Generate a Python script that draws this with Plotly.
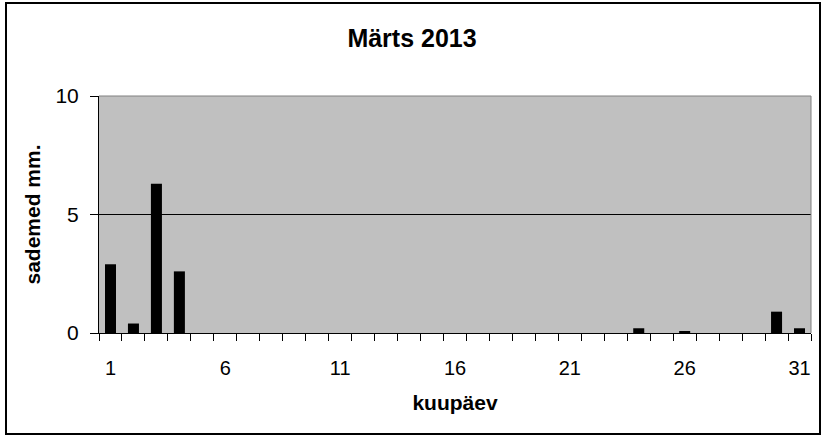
import plotly.graph_objects as go

days = list(range(1, 32))
precip = [2.9, 0.4, 6.3, 2.6, 0, 0, 0, 0, 0, 0,
          0, 0, 0, 0, 0, 0, 0, 0, 0, 0,
          0, 0, 0, 0.2, 0, 0.08, 0, 0, 0, 0.9, 0.2]
x_tick_vals = [1, 6, 11, 16, 21, 26, 31]
x_tick_text = ["1", "6", "11", "16", "21", "26", "31"]
y_tick_vals = [0, 5, 10]

FONT = "Arial, 'Liberation Sans', sans-serif"

fig = go.Figure(go.Bar(x=days, y=precip, marker=dict(color="black", line=dict(width=0)),
                       width=0.48))

L, R, T, B = 99, 14, 96, 106
W, H = 825, 439
pw, ph = W - L - R, H - T - B

fig.update_layout(
    width=W, height=H,
    margin=dict(l=L, r=R, t=T, b=B),
    paper_bgcolor="white",
    plot_bgcolor="#C0C0C0",
    showlegend=False,
    font=dict(family=FONT, color="black"),
    title=dict(text="<b>Märts 2013</b>", x=412 / W, xanchor="center",
               y=1 - 38 / H, yanchor="middle", font=dict(size=25, family=FONT)),
    xaxis=dict(
        range=[0.5, 31.5], tickvals=x_tick_vals, ticktext=x_tick_text,
        ticks="outside", ticklen=17, tickcolor="rgba(0,0,0,0)",
        tickfont=dict(size=20), showgrid=False, zeroline=False,
        showline=True, linecolor="black", linewidth=1,
        minor=dict(ticks="outside", tick0=0.5, dtick=1, ticklen=7, tickcolor="black",
                   showgrid=False),
        title=dict(text="<b>kuupäev</b>", font=dict(size=21), standoff=17),
    ),
    yaxis=dict(
        range=[0, 10], tickvals=y_tick_vals, ticks="outside", ticklen=8,
        tickcolor="black", tickfont=dict(size=21), showgrid=True, gridcolor="black",
        gridwidth=1, zeroline=False, showline=True, linecolor="black", linewidth=1,
        ticklabelstandoff=7,
        title=dict(text="<b>sademed mm.</b>", font=dict(size=21), standoff=9),
    ),
    shapes=[
        dict(type="line", xref="paper", yref="paper", x0=0, x1=1, y0=1, y1=1,
             line=dict(color="#808080", width=1)),
        dict(type="line", xref="paper", yref="paper", x0=1, x1=1, y0=0, y1=1,
             line=dict(color="#808080", width=1)),
        dict(type="rect", xref="paper", yref="paper",
             x0=(6 - L) / pw, x1=(820 - L) / pw,
             y0=-(434 - (T + ph)) / ph, y1=(T + ph - 3) / ph,
             line=dict(color="black", width=2), fillcolor="rgba(0,0,0,0)"),
    ],
)

fig.write_html("out.html", config={"displayModeBar": False},
               post_script="document.body.style.margin='0';")
